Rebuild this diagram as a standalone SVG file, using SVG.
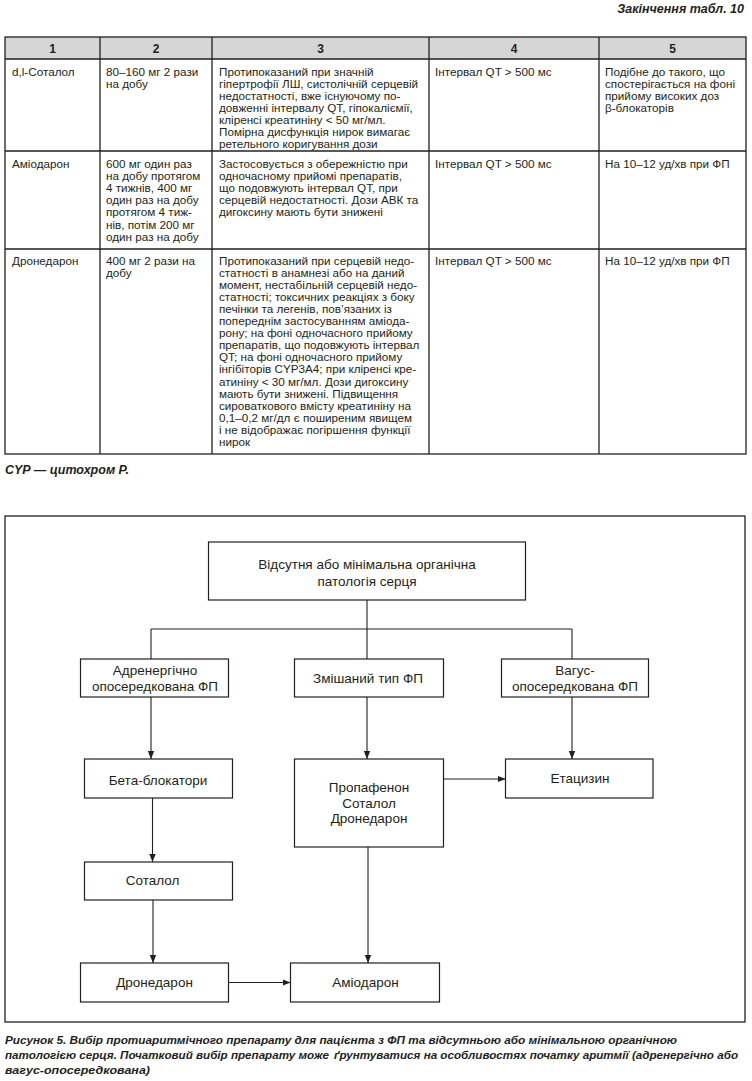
<svg xmlns="http://www.w3.org/2000/svg" width="752" height="1081" viewBox="0 0 752 1081">
<style>
  .bg{fill:#ffffff}
  .ln{stroke:#231f20;stroke-width:1.3;fill:none}
  .hdr{fill:#d6d6d6;stroke:none}
  .th{font-family:"Liberation Sans",Arial,sans-serif;font-size:12px;font-weight:bold;fill:#231f20;text-anchor:middle}
  .td{font-family:"Liberation Sans",Arial,sans-serif;font-size:11.7px;fill:#231f20}
  .bi{font-family:"Liberation Sans",Arial,sans-serif;font-size:12.5px;font-weight:bold;font-style:italic;fill:#231f20}
  .cap{font-family:"Liberation Sans",Arial,sans-serif;font-size:11.8px;font-weight:bold;font-style:italic;fill:#231f20}
  .box{fill:#ffffff;stroke:#231f20;stroke-width:1.2}
  .nt{font-family:"Liberation Sans",Arial,sans-serif;font-size:13.5px;fill:#231f20;text-anchor:middle}
  .cn{stroke:#231f20;stroke-width:1.1;fill:none}
</style>
<defs>
  <marker id="ah" markerUnits="userSpaceOnUse" markerWidth="8" markerHeight="8" viewBox="0 0 8 8" refX="8" refY="4" orient="auto">
    <path d="M0,0.8 L8,4 L0,7.2 Z" fill="#231f20"/>
  </marker>
</defs>
<rect class="bg" x="0" y="0" width="752" height="1081"/>

<!-- Table heading -->
<text class="bi" x="744" y="13" text-anchor="end">Закінчення табл. 10</text>

<g id="table">
  <rect class="hdr" x="5" y="37" width="741" height="22"/>
  <rect class="ln" x="5" y="37" width="741" height="417"/>
  <line class="ln" x1="5" y1="59" x2="746" y2="59"/>
  <line class="ln" x1="5" y1="151" x2="746" y2="151"/>
  <line class="ln" x1="5" y1="249" x2="746" y2="249"/>
  <line class="ln" x1="100" y1="37" x2="100" y2="454"/>
  <line class="ln" x1="212" y1="37" x2="212" y2="454"/>
  <line class="ln" x1="429" y1="37" x2="429" y2="454"/>
  <line class="ln" x1="599" y1="37" x2="599" y2="454"/>

  <text class="th" x="52.5" y="52.5">1</text>
  <text class="th" x="156" y="52.5">2</text>
  <text class="th" x="320.5" y="52.5">3</text>
  <text class="th" x="514" y="52.5">4</text>
  <text class="th" x="672.5" y="52.5">5</text>

  <!-- Row 1 -->
  <text class="td" x="12" y="75.5">d,l-Соталол</text>
  <text class="td" y="75.5"><tspan x="106">80–160 мг 2 рази</tspan><tspan x="106" dy="12.1">на добу</tspan></text>
  <text class="td" y="75.5">
    <tspan x="219">Протипоказаний при значній</tspan>
    <tspan x="219" dy="12.1">гіпертрофії ЛШ, систолічній серцевій</tspan>
    <tspan x="219" dy="12.1">недостатності, вже існуючому по-</tspan>
    <tspan x="219" dy="12.1">довженні інтервалу QT, гіпокаліємії,</tspan>
    <tspan x="219" dy="12.1">кліренсі креатиніну &lt; 50 мг/мл.</tspan>
    <tspan x="219" dy="12.1">Помірна дисфункція нирок вимагає</tspan>
    <tspan x="219" dy="12.1">ретельного коригування дози</tspan>
  </text>
  <text class="td" x="435" y="75.5">Інтервал QT &gt; 500 мс</text>
  <text class="td" y="75.5">
    <tspan x="605">Подібне до такого, що</tspan>
    <tspan x="605" dy="12.1">спостерігається на фоні</tspan>
    <tspan x="605" dy="12.1">прийому високих доз</tspan>
    <tspan x="605" dy="12.1">β-блокаторів</tspan>
  </text>

  <!-- Row 2 -->
  <text class="td" x="12" y="168">Аміодарон</text>
  <text class="td" y="168">
    <tspan x="106">600 мг один раз</tspan>
    <tspan x="106" dy="12.1">на добу протягом</tspan>
    <tspan x="106" dy="12.1">4 тижнів, 400 мг</tspan>
    <tspan x="106" dy="12.1">один раз на добу</tspan>
    <tspan x="106" dy="12.1">протягом 4 тиж-</tspan>
    <tspan x="106" dy="12.1">нів, потім 200 мг</tspan>
    <tspan x="106" dy="12.1">один раз на добу</tspan>
  </text>
  <text class="td" y="168">
    <tspan x="219">Застосовується з обережністю при</tspan>
    <tspan x="219" dy="12.1">одночасному прийомі препаратів,</tspan>
    <tspan x="219" dy="12.1">що подовжують інтервал QT, при</tspan>
    <tspan x="219" dy="12.1">серцевій недостатності. Дози АВК та</tspan>
    <tspan x="219" dy="12.1">дигоксину мають бути знижені</tspan>
  </text>
  <text class="td" x="435" y="168">Інтервал QT &gt; 500 мс</text>
  <text class="td" x="605" y="168">На 10–12 уд/хв при ФП</text>

  <!-- Row 3 -->
  <text class="td" x="12" y="264.5">Дронедарон</text>
  <text class="td" y="264.5"><tspan x="106">400 мг 2 рази на</tspan><tspan x="106" dy="12.1">добу</tspan></text>
  <text class="td" y="264.5">
    <tspan x="219">Протипоказаний при серцевій недо-</tspan>
    <tspan x="219" dy="12.1">статності в анамнезі або на даний</tspan>
    <tspan x="219" dy="12.1">момент, нестабільній серцевій недо-</tspan>
    <tspan x="219" dy="12.1">статності; токсичних реакціях з боку</tspan>
    <tspan x="219" dy="12.1">печінки та легенів, пов’язаних із</tspan>
    <tspan x="219" dy="12.1">попереднім застосуванням аміода-</tspan>
    <tspan x="219" dy="12.1">рону; на фоні одночасного прийому</tspan>
    <tspan x="219" dy="12.1">препаратів, що подовжують інтервал</tspan>
    <tspan x="219" dy="12.1">QT; на фоні одночасного прийому</tspan>
    <tspan x="219" dy="12.1">інгібіторів CYP3A4; при кліренсі кре-</tspan>
    <tspan x="219" dy="12.1">атиніну &lt; 30 мг/мл. Дози дигоксину</tspan>
    <tspan x="219" dy="12.1">мають бути знижені. Підвищення</tspan>
    <tspan x="219" dy="12.1">сироваткового вмісту креатиніну на</tspan>
    <tspan x="219" dy="12.1">0,1–0,2 мг/дл є поширеним явищем</tspan>
    <tspan x="219" dy="12.1">і не відображає погіршення функції</tspan>
    <tspan x="219" dy="12.1">нирок</tspan>
  </text>
  <text class="td" x="435" y="264.5">Інтервал QT &gt; 500 мс</text>
  <text class="td" x="605" y="264.5">На 10–12 уд/хв при ФП</text>
</g>

<text class="bi" x="5" y="474">CYP — цитохром Р.</text>

<!-- Figure frame -->
<rect class="ln" x="5" y="516" width="740" height="506"/>

<g id="connectors">
  <line class="cn" x1="367" y1="600" x2="367" y2="629"/>
  <line class="cn" x1="151" y1="629" x2="572" y2="629"/>
  <line class="cn" x1="151" y1="629" x2="151" y2="659"/>
  <line class="cn" x1="367" y1="629" x2="367" y2="659"/>
  <line class="cn" x1="572" y1="629" x2="572" y2="659"/>
  <line class="cn" x1="151" y1="697" x2="151" y2="759" marker-end="url(#ah)"/>
  <line class="cn" x1="367" y1="697" x2="367" y2="759" marker-end="url(#ah)"/>
  <line class="cn" x1="572" y1="697" x2="572" y2="759" marker-end="url(#ah)"/>
  <line class="cn" x1="443.5" y1="779" x2="505.5" y2="779" marker-end="url(#ah)"/>
  <line class="cn" x1="152.5" y1="798" x2="152.5" y2="862" marker-end="url(#ah)"/>
  <line class="cn" x1="153" y1="900" x2="153" y2="963" marker-end="url(#ah)"/>
  <line class="cn" x1="228.5" y1="982.5" x2="290.5" y2="982.5" marker-end="url(#ah)"/>
  <line class="cn" x1="368" y1="847" x2="368" y2="963" marker-end="url(#ah)"/>
</g>

<g id="n-root">
  <rect class="box" x="208.5" y="542" width="317" height="58"/>
  <text class="nt" x="367" y="569">Відсутня або мінімальна органічна</text>
  <text class="nt" x="367" y="585.5">патологія серця</text>
</g>
<g id="n-adren">
  <rect class="box" x="80.5" y="659" width="148" height="38"/>
  <text class="nt" x="155" y="675">Адренергічно</text>
  <text class="nt" x="155" y="690.5">опосередкована ФП</text>
</g>
<g id="n-mixed">
  <rect class="box" x="294.5" y="659" width="149" height="38"/>
  <text class="nt" x="368" y="683">Змішаний тип ФП</text>
</g>
<g id="n-vagus">
  <rect class="box" x="501.5" y="659" width="147" height="38"/>
  <text class="nt" x="575" y="675">Вагус-</text>
  <text class="nt" x="575" y="690.5">опосередкована ФП</text>
</g>
<g id="n-beta">
  <rect class="box" x="84.5" y="759" width="148" height="39"/>
  <text class="nt" x="158" y="785">Бета-блокатори</text>
</g>
<g id="n-prop">
  <rect class="box" x="294.5" y="759" width="149" height="88"/>
  <text class="nt" x="369" y="792">Пропафенон</text>
  <text class="nt" x="369" y="807.5">Соталол</text>
  <text class="nt" x="369" y="823">Дронедарон</text>
</g>
<g id="n-etac">
  <rect class="box" x="505.5" y="759" width="147.5" height="39"/>
  <text class="nt" x="580" y="783">Етацизин</text>
</g>
<g id="n-sotalol">
  <rect class="box" x="84.5" y="862" width="148" height="38"/>
  <text class="nt" x="152.5" y="885">Соталол</text>
</g>
<g id="n-drone">
  <rect class="box" x="80.5" y="963" width="148" height="39"/>
  <text class="nt" x="154.5" y="987">Дронедарон</text>
</g>
<g id="n-amio">
  <rect class="box" x="290.5" y="963" width="149" height="39"/>
  <text class="nt" x="365.5" y="987">Аміодарон</text>
</g>

<!-- Caption -->
<text class="cap" x="5" y="1044" textLength="672" lengthAdjust="spacingAndGlyphs">Рисунок 5. Вибір протиаритмічного препарату для пацієнта з ФП та відсутньою або мінімальною органічною</text>
<text class="cap" x="5" y="1059" textLength="324" lengthAdjust="spacingAndGlyphs">патологією серця. Початковий вибір препарату може</text>
<text class="cap" x="334" y="1059" textLength="404" lengthAdjust="spacingAndGlyphs">ґрунтуватися на особливостях початку аритмії (адренергічно або</text>
<text class="cap" x="5" y="1074" textLength="145" lengthAdjust="spacingAndGlyphs">вагус-опосередкована)</text>
</svg>
